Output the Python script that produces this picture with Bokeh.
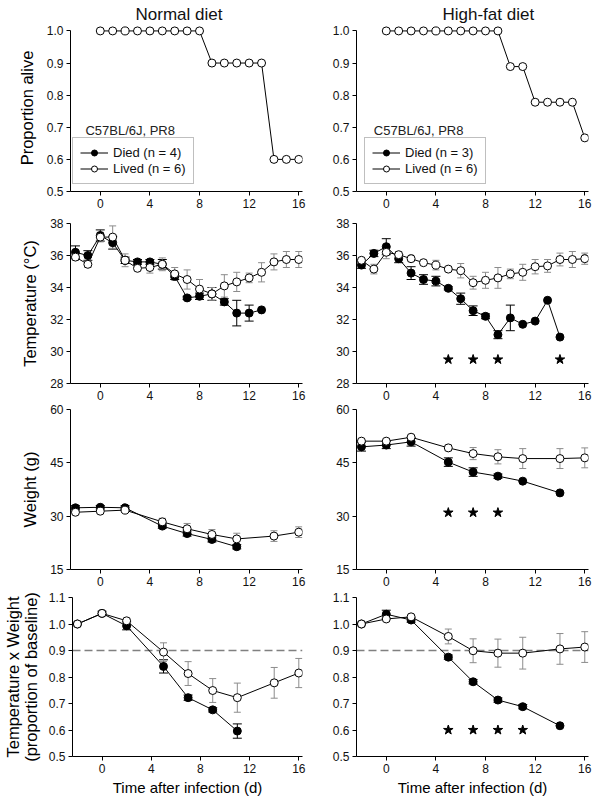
from bokeh.plotting import figure
from bokeh.models import (Range1d, FixedTicker, PrintfTickFormatter, Whisker, TeeHead,
                          ColumnDataSource, Legend, LegendItem, Label, Span)
from bokeh.layouts import column, row
from bokeh.embed import file_html
from bokeh.resources import INLINE

FONT = "Liberation Sans"

# ---------------- data ----------------
x_ticks = [0, 4, 8, 12, 16]

# Proportion alive
surv_days = list(range(0, 17))
nd_alive = [1.0, 1.0, 1.0, 1.0, 1.0, 1.0, 1.0, 1.0, 1.0, 0.9, 0.9, 0.9, 0.9, 0.9, 0.6, 0.6, 0.6]
hf_alive = [1.0, 1.0, 1.0, 1.0, 1.0, 1.0, 1.0, 1.0, 1.0, 1.0, 0.889, 0.889, 0.778, 0.778, 0.778, 0.778, 0.667]

# Temperature (deg C)
nd_temp_died_days = list(range(-2, 14))
nd_temp_died = [36.2, 36.0, 37.25, 36.8, 35.7, 35.6, 35.6, 35.45, 34.7, 33.35, 33.45, 33.6, 33.1, 32.4, 32.4, 32.6]
nd_temp_died_err = [0.4, 0.3, 0.35, 0.4, 0.2, 0.15, 0.15, 0.3, 0.2, 0.1, 0.2, 0.4, 0.2, 0.8, 0.5, 0]
nd_temp_lived_days = list(range(-2, 17))
nd_temp_lived = [35.9, 35.45, 37.15, 37.15, 35.7, 35.2, 35.25, 35.45, 34.85, 34.5, 33.9, 33.6, 34.1, 34.35, 34.6, 34.95, 35.6, 35.75, 35.75]
nd_temp_lived_err = [0.2, 0.2, 0.3, 0.7, 0.4, 0.15, 0.35, 0.4, 0.4, 0.6, 0.6, 0.4, 0.7, 0.6, 0.3, 0.6, 0.5, 0.5, 0.5]

hf_temp_died_days = list(range(-2, 15))
hf_temp_died = [35.4, 36.13, 36.55, 35.8, 34.9, 34.5, 34.4, 33.95, 33.3, 32.55, 32.2, 31.05, 32.1, 31.7, 31.9, 33.2, 30.9]
hf_temp_died_err = [0.2, 0.2, 0.5, 0.25, 0.4, 0.3, 0.3, 0.1, 0.35, 0.3, 0.15, 0.25, 0.8, 0, 0, 0, 0]
hf_temp_lived_days = list(range(-2, 17))
hf_temp_lived = [35.7, 35.15, 36.2, 36.05, 35.8, 35.55, 35.4, 35.15, 35.05, 34.3, 34.45, 34.6, 34.85, 34.95, 35.3, 35.35, 35.75, 35.75, 35.8]
hf_temp_lived_err = [0.15, 0.3, 0.4, 0.2, 0.15, 0.15, 0.3, 0.15, 0.45, 0.4, 0.5, 0.65, 0.3, 0.5, 0.45, 0.4, 0.4, 0.5, 0.35]
hf_temp_sig_days = [5, 7, 9, 14]
hf_temp_sig_y = [29.5, 29.5, 29.5, 29.5]

# Weight (g)
nd_w_died_days = [-2, 0, 2, 5, 7, 9, 11]
nd_w_died = [32.35, 32.5, 32.35, 27.2, 25.1, 23.45, 21.4]
nd_w_died_err = [0.6, 0.5, 0.6, 0.6, 0.7, 0.7, 0.6]
nd_w_lived_days = [-2, 0, 2, 5, 7, 9, 11, 14, 16]
nd_w_lived = [31.1, 31.4, 31.7, 28.4, 26.45, 24.85, 23.6, 24.4, 25.5]
nd_w_lived_err = [0.5, 0.5, 0.6, 1.0, 1.5, 1.4, 1.6, 1.5, 1.5]

hf_w_died_days = [-2, 0, 2, 5, 7, 9, 11, 14]
hf_w_died = [49.5, 50.0, 50.9, 45.2, 42.4, 41.25, 39.85, 36.55]
hf_w_died_err = [1.2, 1.0, 1.2, 1.2, 1.2, 0.6, 0, 0]
hf_w_lived_days = [-2, 0, 2, 5, 7, 9, 11, 14, 16]
hf_w_lived = [51.1, 51.1, 52.2, 49.2, 47.6, 46.7, 46.2, 46.2, 46.4]
hf_w_lived_err = [0.5, 0.5, 0.5, 0.8, 1.7, 2.0, 2.8, 2.8, 2.8]
hf_w_sig_days = [5, 7, 9]
hf_w_sig_y = [31.0, 31.0, 31.0]

# Temperature x Weight (proportion of baseline)
nd_tw_died_days = [-2, 0, 2, 5, 7, 9, 11]
nd_tw_died = [1.0, 1.04, 0.993, 0.84, 0.722, 0.676, 0.596]
nd_tw_died_err = [0, 0.008, 0.015, 0.025, 0.01, 0.008, 0.027]
nd_tw_lived_days = [-2, 0, 2, 5, 7, 9, 11, 14, 16]
nd_tw_lived = [1.0, 1.04, 1.012, 0.894, 0.813, 0.749, 0.722, 0.778, 0.815]
nd_tw_lived_err = [0, 0.005, 0.01, 0.035, 0.045, 0.045, 0.055, 0.058, 0.055]

hf_tw_died_days = [-2, 0, 2, 5, 7, 9, 11, 14]
hf_tw_died = [1.0, 1.037, 1.015, 0.875, 0.782, 0.713, 0.688, 0.616]
hf_tw_died_err = [0, 0.015, 0.008, 0.008, 0.008, 0.008, 0.008, 0]
hf_tw_lived_days = [-2, 0, 2, 5, 7, 9, 11, 14, 16]
hf_tw_lived = [1.0, 1.019, 1.027, 0.953, 0.899, 0.89, 0.89, 0.906, 0.913]
hf_tw_lived_err = [0, 0.005, 0.005, 0.028, 0.045, 0.053, 0.06, 0.058, 0.058]
hf_tw_sig_days = [5, 7, 9, 11]
hf_tw_sig_y = [0.6, 0.6, 0.6, 0.6]
tw_threshold = 0.9

# off-canvas proxy so the "Died" legend entry has a glyph in the survival panels
legend_proxy_x = [-100]
legend_proxy_y = [-100]

# ---------------- layout constants ----------------
FRAME_W = 232
FRAME_H = [167, 160, 160, 161]
COL_L = [70, 48]
COL_R = [6, 10]
ROW_T = [24, 8, 6, 7]
ROW_B = [24, 20, 21, 40]
X_RANGE = (-2.4, 16.3)


def make_fig(ci, ri, yr, yticks, fmt, ylabel=None, title=None, title_offset=0, xlabel=None,
             label_standoff=8):
    w = COL_L[ci] + FRAME_W + COL_R[ci]
    h = ROW_T[ri] + FRAME_H[ri] + ROW_B[ri]
    p = figure(width=w, height=h, x_range=Range1d(*X_RANGE), y_range=Range1d(*yr),
               output_backend="svg", toolbar_location=None,
               min_border_left=COL_L[ci], min_border_right=COL_R[ci],
               min_border_top=ROW_T[ri], min_border_bottom=ROW_B[ri])
    p.outline_line_color = None
    p.xgrid.visible = False
    p.ygrid.visible = False
    for ax in (p.xaxis[0], p.yaxis[0]):
        ax.axis_line_color = "black"
        ax.major_tick_line_color = "black"
        ax.major_tick_out = 4
        ax.major_tick_in = 0
        ax.minor_tick_line_color = None
        ax.major_label_text_font = FONT
        ax.major_label_text_font_size = "12px"
        ax.major_label_text_color = "#111111"
        ax.major_label_standoff = 3
        ax.axis_label_text_font = FONT
        ax.axis_label_text_font_style = "normal"
        ax.axis_label_text_color = "black"
        ax.axis_label_text_line_height = 1.0
    p.xaxis.axis_label_standoff = 3
    p.yaxis.axis_label_standoff = label_standoff
    p.xaxis.ticker = FixedTicker(ticks=x_ticks)
    p.yaxis.ticker = FixedTicker(ticks=yticks)
    p.yaxis.formatter = PrintfTickFormatter(format=fmt)
    p.yaxis.bounds = (yticks[0], yticks[-1])
    if ylabel:
        p.yaxis.axis_label = ylabel
        p.yaxis.axis_label_text_font_size = "16.5px"
    if xlabel:
        p.xaxis.axis_label = xlabel
        p.xaxis.axis_label_text_font_size = "15px"
    if title:
        p.title.text = title
        p.title.text_font = FONT
        p.title.text_font_size = "17px"
        p.title.text_font_style = "normal"
        p.title.text_color = "#111111"
        p.title.align = "left"
        p.title.offset = title_offset
        p.title.standoff = 2
    return p


def add_series(p, x, y, err, filled):
    ecol = "black" if filled else "#8c8c8c"
    cap = 9 if filled else 7
    if err is not None:
        bx = [xi for xi, e in zip(x, err) if e > 0]
        up = [yi + e for yi, e in zip(y, err) if e > 0]
        lo = [yi - e for yi, e in zip(y, err) if e > 0]
        src = ColumnDataSource(dict(base=bx, upper=up, lower=lo))
        wk = Whisker(source=src, base="base", upper="upper", lower="lower",
                     line_color=ecol, line_width=1,
                     upper_head=TeeHead(size=cap, line_color=ecol, line_width=1),
                     lower_head=TeeHead(size=cap, line_color=ecol, line_width=1))
        p.add_layout(wk)
    ln = p.line(x, y, line_color="black", line_width=1)
    sc = p.scatter(x, y, marker="circle", size=8, line_color="black", line_width=1,
                   fill_color="black" if filled else "white")
    return ln, sc


def add_stars(p, x, y):
    p.scatter(x, y, marker="star", size=10, fill_color="black", line_color="black")


def add_legend(p, died_label, lived_label, lived_r, loc, strain_x):
    dl = p.line(legend_proxy_x, legend_proxy_y, line_color="black", line_width=1)
    ds = p.scatter(legend_proxy_x, legend_proxy_y, marker="circle", size=8,
                   line_color="black", fill_color="black")
    leg = Legend(items=[LegendItem(label=died_label, renderers=[dl, ds]),
                        LegendItem(label=lived_label, renderers=list(lived_r))],
                 location=loc, margin=0, padding=7, spacing=1,
                 glyph_width=28, glyph_height=15, label_height=15, label_standoff=5,
                 label_text_font=FONT, label_text_font_size="13px", label_text_color="#111111",
                 border_line_color="#7f7f7f", border_line_width=1,
                 background_fill_color="white", background_fill_alpha=1.0)
    p.add_layout(leg)
    p.add_layout(Label(x=strain_x, y=0.69, text="C57BL/6J, PR8", text_font=FONT,
                       text_font_size="13px", text_font_style="normal",
                       text_baseline="middle", text_color="#222222"))


# ---------------- row 1: survival ----------------
s_ticks = [0.5, 0.6, 0.7, 0.8, 0.9, 1.0]
p11 = make_fig(0, 0, (0.5, 1.02), s_ticks, "%.1f", ylabel="Proportion alive",
               title="Normal diet", title_offset=65)
r = add_series(p11, surv_days, nd_alive, None, False)
add_legend(p11, "Died (n = 4)", "Lived (n = 6)", r, (2, 7), -1.2)

p12 = make_fig(1, 0, (0.5, 1.02), s_ticks, "%.1f", title="High-fat diet", title_offset=86)
r = add_series(p12, surv_days, hf_alive, None, False)
add_legend(p12, "Died (n = 3)", "Lived (n = 6)", r, (8, 7), -1.0)

# ---------------- row 2: temperature ----------------
t_ticks = [28, 30, 32, 34, 36, 38]
p21 = make_fig(0, 1, (28, 38), t_ticks, "%d", ylabel="Temperature (°C)")
add_series(p21, nd_temp_died_days, nd_temp_died, nd_temp_died_err, True)
add_series(p21, nd_temp_lived_days, nd_temp_lived, nd_temp_lived_err, False)

p22 = make_fig(1, 1, (28, 38), t_ticks, "%d")
add_series(p22, hf_temp_died_days, hf_temp_died, hf_temp_died_err, True)
add_series(p22, hf_temp_lived_days, hf_temp_lived, hf_temp_lived_err, False)
add_stars(p22, hf_temp_sig_days, hf_temp_sig_y)

# ---------------- row 3: weight ----------------
w_ticks = [15, 30, 45, 60]
p31 = make_fig(0, 2, (15, 60), w_ticks, "%d", ylabel="Weight (g)")
add_series(p31, nd_w_died_days, nd_w_died, nd_w_died_err, True)
add_series(p31, nd_w_lived_days, nd_w_lived, nd_w_lived_err, False)

p32 = make_fig(1, 2, (15, 60), w_ticks, "%d")
add_series(p32, hf_w_died_days, hf_w_died, hf_w_died_err, True)
add_series(p32, hf_w_lived_days, hf_w_lived, hf_w_lived_err, False)
add_stars(p32, hf_w_sig_days, hf_w_sig_y)

# ---------------- row 4: temperature x weight ----------------
tw_ticks = [0.5, 0.6, 0.7, 0.8, 0.9, 1.0, 1.1]
p41 = make_fig(0, 3, (0.5, 1.1), tw_ticks, "%.1f",
               ylabel="Temperature x Weight\n(proportion of baseline)",
               xlabel="Time after infection (d)", label_standoff=6)
p42 = make_fig(1, 3, (0.5, 1.1), tw_ticks, "%.1f", xlabel="Time after infection (d)")
for p in (p41, p42):
    sp = Span(location=tw_threshold, dimension="width", line_color="#808080",
              line_width=1.5, line_dash="8 4")
    sp.level = "underlay"
    p.add_layout(sp)
add_series(p41, nd_tw_died_days, nd_tw_died, nd_tw_died_err, True)
add_series(p41, nd_tw_lived_days, nd_tw_lived, nd_tw_lived_err, False)
add_series(p42, hf_tw_died_days, hf_tw_died, hf_tw_died_err, True)
add_series(p42, hf_tw_lived_days, hf_tw_lived, hf_tw_lived_err, False)
add_stars(p42, hf_tw_sig_days, hf_tw_sig_y)

layout = column(row(p11, p12), row(p21, p22), row(p31, p32), row(p41, p42))

with open("out.html", "w") as f:
    f.write(file_html(layout, INLINE))
